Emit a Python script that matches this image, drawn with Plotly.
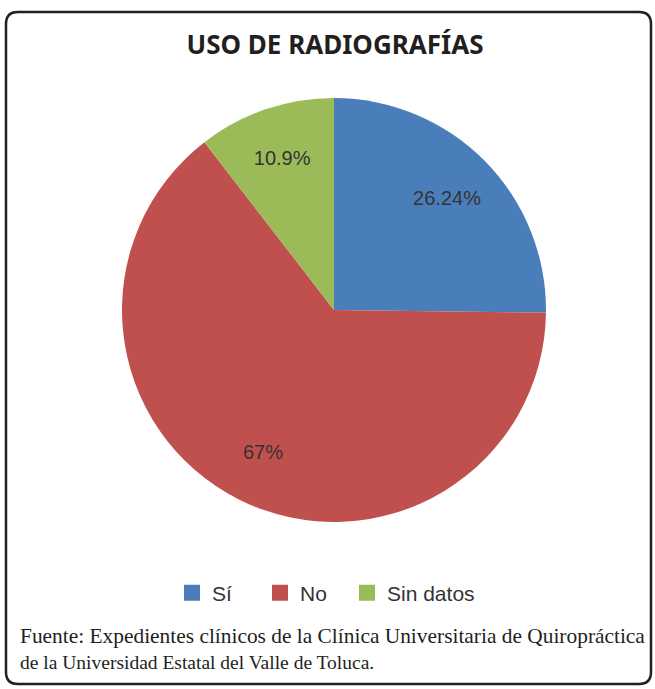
import plotly.graph_objects as go

categories = ["Sí", "No", "Sin datos"]
values = [26.24, 67, 10.9]
value_labels = ["26.24%", "67%", "10.9%"]
colors = ["#4a7ebb", "#c0504d", "#9bbb59"]

W, H = 655, 689
pie_domain = dict(x=[122 / W, 546 / W], y=[1 - 522 / H, 1 - 98 / H])

fig = go.Figure()
# filled pie
fig.add_trace(go.Pie(
    labels=categories, values=values, sort=False, direction="clockwise", rotation=0,
    marker=dict(colors=colors, line=dict(width=0)),
    textinfo="none", domain=pie_domain, hoverinfo="label+percent", showlegend=False,
))
# transparent ring overlay that carries the value labels further out from the centre
fig.add_trace(go.Pie(
    labels=categories, values=values, text=value_labels, textinfo="text",
    textposition="inside", insidetextorientation="horizontal",
    sort=False, direction="clockwise", rotation=0, hole=0.5,
    marker=dict(colors=["rgba(0,0,0,0)"] * 3, line=dict(width=0)),
    textfont=dict(family="Liberation Sans, Arial", size=20, color="#333333"),
    domain=pie_domain, hoverinfo="skip", showlegend=False,
))
# legend entries (square swatches), one legend per category
legend_x = [172, 260, 347]
for i, (name, col) in enumerate(zip(categories, colors)):
    fig.add_trace(go.Scatter(x=[None], y=[None], mode="markers", name=name,
                             marker=dict(symbol="square", size=18, color=col),
                             showlegend=True, hoverinfo="skip",
                             legend="legend" if i == 0 else f"legend{i + 1}"))

x0, y0, x1, y1, r = 6, 12, 651, 684, 12
def P(x, y):
    return f"{x / W:.5f},{1 - y / H:.5f}"
path = (f"M {P(x0 + r, y0)} L {P(x1 - r, y0)} Q {P(x1, y0)} {P(x1, y0 + r)} "
        f"L {P(x1, y1 - r)} Q {P(x1, y1)} {P(x1 - r, y1)} "
        f"L {P(x0 + r, y1)} Q {P(x0, y1)} {P(x0, y1 - r)} "
        f"L {P(x0, y0 + r)} Q {P(x0, y0)} {P(x0 + r, y0)} Z")

leg_style = dict(orientation="h", xanchor="left", y=1 - 593 / H, yanchor="middle",
                 font=dict(family="Liberation Sans, Arial", size=21, color="#333333"),
                 bgcolor="rgba(0,0,0,0)")

fig.update_layout(
    width=W, height=H,
    margin=dict(l=0, r=0, t=0, b=0),
    paper_bgcolor="white",
    plot_bgcolor="white",
    xaxis=dict(visible=False), yaxis=dict(visible=False),
    title=dict(text="<b>USO DE RADIOGRAFÍAS</b>", x=335 / W, xanchor="center",
               y=1 - 45 / H, yanchor="middle",
               font=dict(family="Noto Sans, Open Sans", size=26, color="#231f20")),
    legend=dict(x=legend_x[0] / W, **leg_style),
    legend2=dict(x=legend_x[1] / W, **leg_style),
    legend3=dict(x=legend_x[2] / W, **leg_style),
    shapes=[dict(type="path", path=path, xref="paper", yref="paper",
                 line=dict(color="#231f20", width=2.5), fillcolor="rgba(0,0,0,0)")],
    annotations=[
        dict(text="Fuente: Expedientes clínicos de la Clínica Universitaria de Quiropráctica",
             x=18 / W, y=1 - 636 / H, xref="paper", yref="paper", xanchor="left", yanchor="middle",
             showarrow=False, font=dict(family="Liberation Serif, Times New Roman", size=21.4, color="#231f20")),
        dict(text="de la Universidad Estatal del Valle de Toluca.",
             x=18 / W, y=1 - 662 / H, xref="paper", yref="paper", xanchor="left", yanchor="middle",
             showarrow=False, font=dict(family="Liberation Serif, Times New Roman", size=19.5, color="#231f20")),
    ],
)

fig.write_html("out.html", config={"displayModeBar": False},
               post_script="document.body.style.margin='0';document.body.style.overflow='hidden';")
